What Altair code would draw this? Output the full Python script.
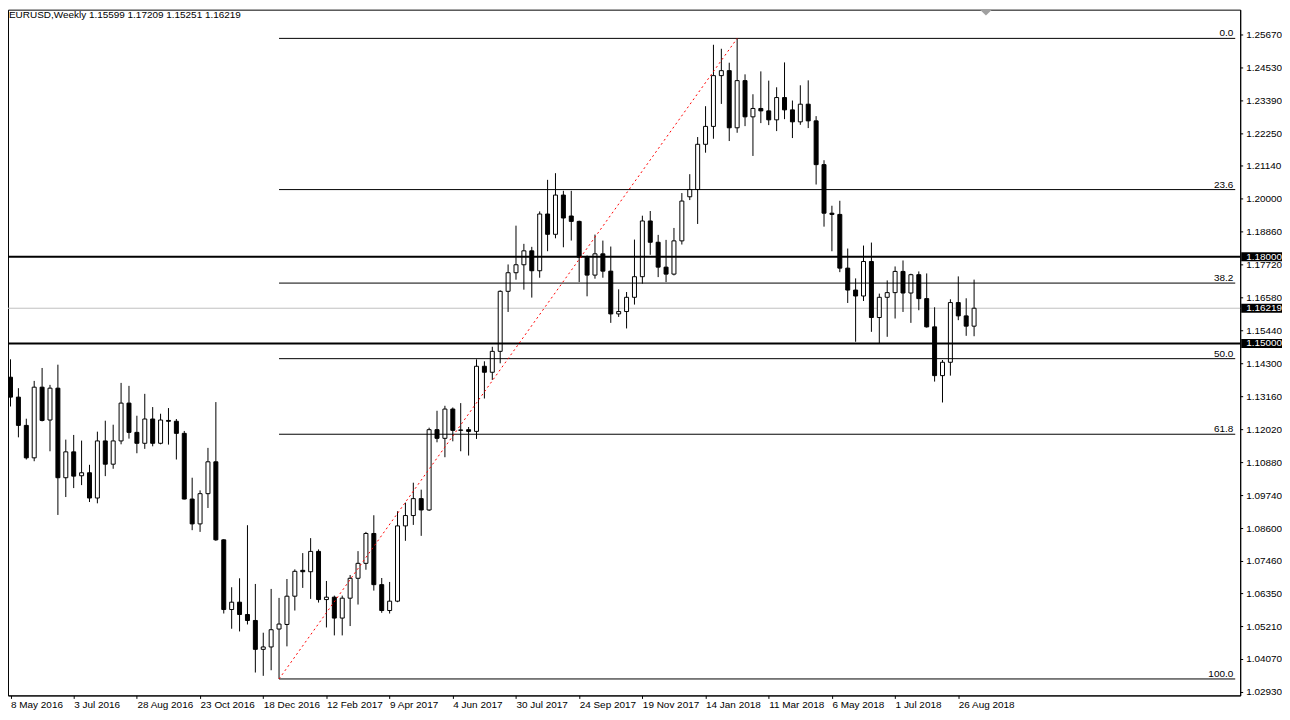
import altair as alt
import pandas as pd

# ---------------- data ----------------
chart_title = "EURUSD,Weekly  1.15599 1.17209 1.15251 1.16219"

opens = [1.13833, 1.13145, 1.12167, 1.11045, 1.13489, 1.12353, 1.13455, 1.10357, 1.11252, 1.10426,
         1.10529, 1.09655, 1.11630, 1.10825, 1.11630, 1.12938, 1.11926, 1.11548, 1.12388, 1.11548,
         1.12339, 1.12310, 1.11892, 1.09620, 1.08760, 1.09806, 1.10908, 1.08209, 1.05799, 1.06053,
         1.05627, 1.05420, 1.04422, 1.04504, 1.05124, 1.05282, 1.06260, 1.07154, 1.07106, 1.07809,
         1.06143, 1.06225, 1.05503, 1.06191, 1.06879, 1.07396, 1.08429, 1.06659, 1.05764, 1.06088,
         1.08691, 1.09049, 1.09634, 1.09242, 1.12019, 1.11720, 1.12732, 1.11995, 1.12019, 1.11960,
         1.14212, 1.14005, 1.14728, 1.16804, 1.17447, 1.17723, 1.18205, 1.17516, 1.19478, 1.18776,
         1.20133, 1.19409, 1.19223, 1.17984, 1.17365, 1.18101, 1.17502, 1.16022, 1.16105, 1.16597,
         1.17310, 1.19237, 1.18501, 1.17640, 1.17399, 1.18549, 1.20074, 1.20326, 1.21889, 1.22508,
         1.24264, 1.24436, 1.22460, 1.24091, 1.22839, 1.23128, 1.23045, 1.22735, 1.23506, 1.23080,
         1.22666, 1.23276, 1.22700, 1.21186, 1.19506, 1.19464, 1.17606, 1.16848, 1.16642, 1.17836,
         1.15898, 1.16597, 1.16759, 1.17492, 1.16745, 1.17379, 1.16552, 1.15575, 1.13888, 1.14350,
         1.16415, 1.15954, 1.15599]
highs = [1.14453, 1.13455, 1.12398, 1.13706, 1.14153, 1.13568, 1.14267, 1.11675, 1.11837, 1.11641,
         1.10804, 1.11950, 1.12329, 1.12191, 1.13637, 1.13534, 1.12501, 1.13258, 1.12801, 1.12570,
         1.12766, 1.12388, 1.11975, 1.10357, 1.09920, 1.11389, 1.12973, 1.08230, 1.06570, 1.06879,
         1.08715, 1.06683, 1.04997, 1.06511, 1.06201, 1.06855, 1.07189, 1.07750, 1.08268, 1.07878,
         1.06786, 1.06280, 1.06280, 1.06993, 1.07819, 1.08484, 1.09059, 1.06889, 1.06752, 1.09197,
         1.09496, 1.10185, 1.09944, 1.12088, 1.12673, 1.12845, 1.12787, 1.12938, 1.12112, 1.14453,
         1.14384, 1.14886, 1.16838, 1.17733, 1.19075, 1.18446, 1.18342, 1.19568, 1.20660, 1.20890,
         1.20281, 1.20281, 1.19248, 1.18043, 1.18766, 1.18559, 1.18353, 1.16873, 1.16780, 1.18594,
         1.19420, 1.19582, 1.18756, 1.18583, 1.18996, 1.20202, 1.20855, 1.22140, 1.23207, 1.25331,
         1.25193, 1.24711, 1.25552, 1.24308, 1.23620, 1.24411, 1.24091, 1.23861, 1.24721, 1.23403,
         1.23930, 1.24101, 1.22863, 1.21338, 1.19764, 1.19936, 1.18284, 1.17251, 1.18387, 1.18490,
         1.16725, 1.17182, 1.17664, 1.17871, 1.17413, 1.17492, 1.17423, 1.16253, 1.14429, 1.16528,
         1.17320, 1.16563, 1.17209]
lows = [1.12821, 1.11754, 1.10987, 1.10928, 1.12305, 1.11272, 1.09070, 1.09689, 1.09999, 1.10102,
        1.09517, 1.09472, 1.10412, 1.10667, 1.11513, 1.11710, 1.11204, 1.11355, 1.11444, 1.11513,
        1.11503, 1.10987, 1.09610, 1.08543, 1.08484, 1.09311, 1.08174, 1.05661, 1.05134, 1.05041,
        1.05282, 1.03620, 1.03506, 1.03699, 1.03397, 1.04525, 1.05764, 1.06546, 1.06167, 1.06040,
        1.05179, 1.04904, 1.04904, 1.05227, 1.05971, 1.07175, 1.06453, 1.05685, 1.05661, 1.06053,
        1.08175, 1.08725, 1.08347, 1.09207, 1.11582, 1.11066, 1.11617, 1.11272, 1.11124, 1.11699,
        1.13097, 1.13740, 1.14315, 1.16091, 1.17206, 1.16862, 1.16587, 1.17275, 1.18191, 1.18638,
        1.18328, 1.18559, 1.17124, 1.16632, 1.17241, 1.17275, 1.15713, 1.15919, 1.15520, 1.16346,
        1.17069, 1.18067, 1.17296, 1.17124, 1.17355, 1.18422, 1.19960, 1.19134, 1.21599, 1.22081,
        1.23286, 1.22002, 1.22288, 1.22518, 1.21486, 1.22622, 1.22553, 1.22346, 1.22759, 1.22105,
        1.22563, 1.22450, 1.20498, 1.19041, 1.18191, 1.17468, 1.16401, 1.15059, 1.16470, 1.15403,
        1.15004, 1.15231, 1.15864, 1.16091, 1.15713, 1.16150, 1.15550, 1.13682, 1.12959, 1.13888,
        1.15806, 1.15265, 1.15251]
closes = [1.13145, 1.12167, 1.11045, 1.13489, 1.12339, 1.13455, 1.10357, 1.11252, 1.10412, 1.10529,
          1.09655, 1.11630, 1.10825, 1.11630, 1.12938, 1.11926, 1.11548, 1.12388, 1.11548, 1.12353,
          1.12310, 1.11892, 1.09620, 1.08760, 1.09806, 1.10908, 1.08209, 1.05799, 1.06053, 1.05627,
          1.05420, 1.04422, 1.04504, 1.05100, 1.05296, 1.06260, 1.07120, 1.07106, 1.07809, 1.06143,
          1.06225, 1.05503, 1.06191, 1.06879, 1.07396, 1.08429, 1.06659, 1.05764, 1.06088, 1.08691,
          1.09049, 1.09634, 1.09242, 1.12019, 1.11720, 1.12732, 1.11995, 1.12009, 1.11960, 1.14212,
          1.14005, 1.14728, 1.16804, 1.17447, 1.17723, 1.18205, 1.17516, 1.19478, 1.18776, 1.20133,
          1.19340, 1.19223, 1.17984, 1.17365, 1.18101, 1.17502, 1.16022, 1.16105, 1.16597, 1.17310,
          1.19237, 1.18501, 1.17640, 1.17399, 1.18549, 1.19926, 1.20326, 1.21889, 1.22508, 1.24264,
          1.24436, 1.22460, 1.24091, 1.22839, 1.23128, 1.23045, 1.22735, 1.23506, 1.23080, 1.22666,
          1.23276, 1.22700, 1.21186, 1.19506, 1.19464, 1.17606, 1.16848, 1.16642, 1.17836, 1.15898,
          1.16597, 1.16759, 1.17492, 1.16745, 1.17379, 1.16552, 1.15575, 1.13888, 1.14350, 1.16415,
          1.15954, 1.15599, 1.16219]

date_tick_weeks = [0, 8, 16, 24, 32, 40, 48, 56, 64, 72, 80, 88, 96, 104, 112, 120]
date_tick_labels = ["8 May 2016", "3 Jul 2016", "28 Aug 2016", "23 Oct 2016", "18 Dec 2016",
                    "12 Feb 2017", "9 Apr 2017", "4 Jun 2017", "30 Jul 2017", "24 Sep 2017",
                    "19 Nov 2017", "14 Jan 2018", "11 Mar 2018", "6 May 2018", "1 Jul 2018",
                    "26 Aug 2018"]

price_ticks = [1.25670, 1.24530, 1.23390, 1.22250, 1.21140, 1.20000, 1.18860, 1.17720, 1.16580,
               1.15440, 1.14300, 1.13160, 1.12020, 1.10880, 1.09740, 1.08600, 1.07460, 1.06350,
               1.05210, 1.04070, 1.02930]

fib_labels = ["0.0", "23.6", "38.2", "50.0", "61.8", "100.0"]
fib_prices = [1.25552, 1.20323, 1.17089, 1.14475, 1.11861, 1.03397]
fib_start_week = 34
fib_end_week = 92

level_prices = [1.18000, 1.15000]
bid_price = [1.16219]
marked_prices = [1.18000, 1.16219, 1.15000]

# ---------------- layout ----------------
FONT = "Liberation Sans"
W, H = 1238, 689
PX_PER_WEEK = 8
x_dom = [0.3125, 0.3125 + W / PX_PER_WEEK]
y_dom = [1.02828, 1.26546]

x_scale = alt.Scale(domain=x_dom, nice=False, zero=False)
y_scale = alt.Scale(domain=y_dom, nice=False, zero=False)

label_js = "[" + ",".join("'%s'" % s for s in date_tick_labels) + "][round(datum.value / 8)]"

x_axis = alt.Axis(values=date_tick_weeks, labelExpr=label_js, grid=False, tickSize=3,
                  labelAlign="left", labelBaseline="top", labelPadding=1, labelOverlap=False,
                  labelFlush=False, labelBound=False, domainColor="black", tickColor="black",
                  labelColor="black", labelFont=FONT, labelFontSize=10)
y_axis = alt.Axis(orient="right", labels=False, ticks=False, grid=False,
                  domainColor="black")

df = pd.DataFrame({"week": list(range(len(opens))), "open": opens, "high": highs,
                   "low": lows, "close": closes})


def X(field, **kw):
    return alt.X(field, type="quantitative", scale=x_scale, title=None, **kw)


def Y(field, **kw):
    return alt.Y(field, type="quantitative", scale=y_scale, title=None, **kw)


bid_df = pd.DataFrame({"price": bid_price})
bid_line = alt.Chart(bid_df).mark_rule(color="#c0c0c0", strokeWidth=1).encode(
    y=Y("price"))

wicks = alt.Chart(df).mark_rule(color="black", strokeWidth=1).encode(
    x=X("week", axis=x_axis), y=Y("low", axis=y_axis), y2="high")

bodies = alt.Chart(df).mark_bar(size=4, stroke="black", strokeWidth=1).encode(
    x=X("week"), y=Y("open"), y2="close",
    fill=alt.condition("datum.close >= datum.open", alt.value("#ffffff"), alt.value("#000000")))

fib_df = pd.DataFrame({"label": fib_labels, "price": fib_prices,
                       "start": [fib_start_week] * len(fib_prices),
                       "end": [x_dom[1]] * len(fib_prices)})
fib_lines = alt.Chart(fib_df).mark_rule(color="black", strokeWidth=1).encode(
    x=X("start"), x2="end", y=Y("price"))
fib_text = alt.Chart(fib_df).mark_text(align="right", baseline="alphabetic", dx=-2, dy=-2,
                                       font=FONT, fontSize=10, color="black").encode(
    x=X("end"), y=Y("price"), text="label:N")

lvl_df = pd.DataFrame({"price": level_prices})
level_lines = alt.Chart(lvl_df).mark_rule(color="black", strokeWidth=2).encode(y=Y("price"))

trend_df = pd.DataFrame({"w0": [fib_start_week], "w1": [fib_end_week],
                         "p0": [fib_prices[-1]], "p1": [fib_prices[0]]})
trend = alt.Chart(trend_df).mark_rule(color="#ff0000", strokeWidth=1, strokeDash=[2, 3]).encode(
    x=X("w0"), x2="w1", y=Y("p0"), y2="p1")

# price scale on the right: ticks + labels
tick_df = pd.DataFrame({"price": price_ticks})
price_tick_marks = alt.Chart(tick_df).mark_rule(color="black", strokeWidth=1).encode(
    x=alt.value(W), x2=alt.value(W + 3), y=Y("price"))
price_tick_text = alt.Chart(tick_df).mark_text(align="left", baseline="middle", font=FONT,
                                               fontSize=10, color="black").encode(
    x=alt.value(W + 6), y=Y("price"), text=alt.Text("price:Q", format=".5f"))

mark_df = pd.DataFrame({"price": marked_prices})
boxes = alt.Chart(mark_df).mark_rule(color="black", strokeWidth=9).encode(
    x=alt.value(W + 1), x2=alt.value(W + 48), y=Y("price"))
box_text = alt.Chart(mark_df).mark_text(align="left", baseline="middle", font=FONT,
                                        fontSize=10, color="white").encode(
    x=alt.value(W + 6), y=Y("price"), text=alt.Text("price:Q", format=".5f"))

title_df = pd.DataFrame({"t": [chart_title]})
title_text = alt.Chart(title_df).mark_text(align="left", baseline="middle", font=FONT,
                                           fontSize=10, color="black").encode(
    x=alt.value(1), y=alt.value(5), text="t:N")

shift_df = pd.DataFrame({"week": [123.5]})
shift_marker = alt.Chart(shift_df).mark_point(shape="M-1,-0.5L1,-0.5L0,0.5Z", filled=True,
                                              color="#a0a0a0", size=144, opacity=1).encode(
    x=X("week"), y=alt.value(3))

chart = alt.layer(bid_line, wicks, bodies, fib_lines, level_lines, trend, fib_text,
                  price_tick_marks, price_tick_text, boxes, box_text, title_text,
                  shift_marker).properties(
    width=W, height=H,
    padding={"left": 0, "top": 0, "right": 42, "bottom": 15},
    autosize=alt.AutoSizeParams(type="none"),
    background="white",
).configure_view(stroke="black", strokeWidth=1)

chart.save("out.html", embed_options={"renderer": "svg", "actions": False})
